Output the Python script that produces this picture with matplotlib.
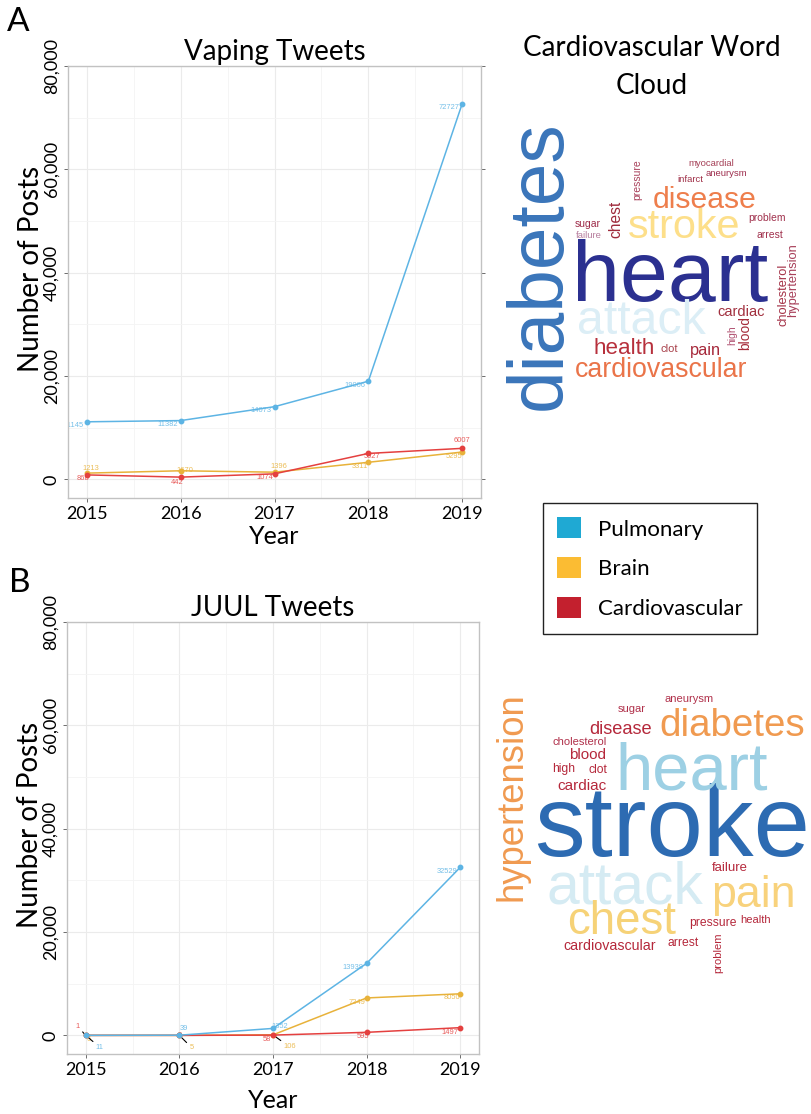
import matplotlib
matplotlib.use('Agg')
import matplotlib.pyplot as plt
from matplotlib.patches import Patch
from matplotlib.ticker import FuncFormatter, MultipleLocator

plt.rcParams['font.family'] = ['Lato', 'DejaVu Sans']

# ---- data ----
years = [2015, 2016, 2017, 2018, 2019]
series_names = ['Pulmonary', 'Brain', 'Cardiovascular']

vape_pulmonary = [11145, 11382, 14073, 19006, 72727]
vape_brain = [1213, 1670, 1396, 3311, 5295]
vape_cardio = [868, 442, 1074, 5027, 6007]

juul_pulmonary = [11, 39, 1352, 13938, 32529]
juul_brain = [6, 5, 106, 7249, 8050]
juul_cardio = [1, 3, 58, 595, 1497]

y_ticks = [0, 20000, 40000, 60000, 80000]

# word clouds (relative weight, biggest word = 100)
vape_words = ['heart', 'diabetes', 'attack', 'stroke', 'disease', 'cardiovascular',
              'health', 'chest', 'pain', 'cardiac', 'blood', 'cholesterol',
              'hypertension', 'clot', 'high', 'problem', 'arrest', 'pressure',
              'sugar', 'failure', 'aneurysm', 'myocardial', 'infarct']
vape_weights = [100, 89, 56, 48, 35, 31, 26, 18, 19, 17, 16, 15,
                15, 13, 12, 12, 12, 12, 12, 11, 11, 11, 11]

juul_words = ['stroke', 'heart', 'attack', 'chest', 'pain', 'diabetes', 'hypertension',
              'disease', 'blood', 'cardiac', 'cardiovascular', 'failure', 'clot',
              'pressure', 'high', 'arrest', 'aneurysm', 'health', 'problem',
              'cholesterol', 'sugar']
juul_weights = [100, 66, 58, 45, 44, 38, 36, 18, 15, 15, 14, 13, 12,
                12, 12, 12, 11, 11, 11, 11, 11]

# ---- styling / layout ----
line_colors = ['#5DB4E4', '#E8B23A', '#E4403F']
legend_colors = ['#1FA9D3', '#FBBC33', '#C3202E']

# label offsets in pixels: (dx, dy, ha, leader)
vape_label_pos = [
    [(-3, -4, 'right', False)] * 5,
    [(4, 5, 'center', False), (4, 0, 'center', False), (4, 6, 'center', False),
     (0, -4, 'right', False), (0, -4, 'right', False)],
    [(-4, -4, 'center', False), (-4, -5, 'center', False), (-1, -4, 'right', False),
     (4, -3, 'center', False), (0, 8, 'center', False)],
]
juul_label_pos = [
    [(10, -12, 'left', True), (0, 7, 'left', False), (7, 2, 'center', False),
     (-3, -4, 'right', False), (-3, -4, 'right', False)],
    [(3, -4, 'center', False), (10, -12, 'left', True), (10, -12, 'left', True),
     (-1, -5, 'right', False), (0, -4, 'right', False)],
    [(-8, 9, 'center', True), (0, 0, 'center', False), (-2, -4, 'right', False),
     (-4, -4, 'center', False), (-2, -5, 'right', False)],
]

# word cloud layout: word -> (x px, y px, rotation, colour)
vape_layout = {
    'diabetes': (540, 265, 90, '#3A75BA'),
    'heart': (670, 279, 0, '#2B3090'),
    'attack': (641, 322, 0, '#DCEEF6'),
    'stroke': (684, 227, 0, '#FDDF8A'),
    'disease': (705, 200, 0, '#EE7E4C'),
    'cardiovascular': (661, 370, 0, '#EA7449'),
    'health': (624, 349, 0, '#B7303C'),
    'pain': (705, 350, 0, '#A6283A'),
    'clot': (669, 349, 0, '#A8404A'),
    'cardiac': (741, 312, 0, '#A2303F'),
    'blood': (745, 333, 90, '#A62C3A'),
    'high': (732, 335, 90, '#B05070'),
    'cholesterol': (784, 295, 90, '#A53348'),
    'hypertension': (793, 280, 90, '#A8405A'),
    'chest': (616, 219, 90, '#9E2A3B'),
    'pressure': (637, 180, 90, '#A8405A'),
    'sugar': (588, 224, 0, '#9D2A48'),
    'failure': (589, 236, 0, '#B67C9C'),
    'myocardial': (711, 164, 0, '#A54057'),
    'aneurysm': (726, 174, 0, '#9E2F4E'),
    'infarct': (690, 179, 0, '#A03048'),
    'problem': (767, 218, 0, '#A0304C'),
    'arrest': (770, 235, 0, '#A0304C'),
}
juul_layout = {
    'hypertension': (512, 797, 90, '#F09A50'),
    'diabetes': (732, 726, 0, '#F09A50'),
    'heart': (692, 772, 0, '#9DD0E4'),
    'stroke': (672, 830, 0, '#2D6BB2'),
    'attack': (625, 888, 0, '#D5EBF3'),
    'pain': (753, 896, 0, '#F8D27C'),
    'chest': (622, 922, 0, '#F6D277'),
    'disease': (621, 730, 0, '#B5283B'),
    'aneurysm': (689, 699, 0, '#B0304A'),
    'sugar': (632, 709, 0, '#B0304A'),
    'cholesterol': (580, 742, 0, '#B0304A'),
    'blood': (588, 755, 0, '#B5283B'),
    'high': (564, 769, 0, '#B5283B'),
    'clot': (598, 770, 0, '#B5283B'),
    'cardiac': (582, 786, 0, '#B5283B'),
    'failure': (730, 868, 0, '#B5283B'),
    'pressure': (713, 923, 0, '#B5283B'),
    'health': (756, 920, 0, '#B5283B'),
    'arrest': (683, 943, 0, '#B5283B'),
    'cardiovascular': (610, 946, 0, '#B5283B'),
    'problem': (718, 953, 90, '#B5283B'),
}

FIG_W, FIG_H = 812, 1114


def line_panel(ax, series, label_pos, title, right_ticks):
    """Draw one line chart panel in a ggplot-like style."""
    order = [1, 2, 0]
    for i in order:
        ax.plot(years, series[i], color=line_colors[i], lw=1.1, marker='o',
                ms=3.2, zorder=3)
    for i in order:
        for j, val in enumerate(series[i]):
            dx, dy, ha, leader = label_pos[i][j]
            kw = {}
            if leader:
                kw['arrowprops'] = dict(arrowstyle='-', color='black', lw=0.8,
                                        shrinkA=0, shrinkB=1)
            ax.annotate(str(val), (years[j], val), xytext=(dx, dy),
                        textcoords='offset pixels', ha=ha, va='center',
                        fontsize=5.4, color=line_colors[i], alpha=0.85,
                        family='Liberation Sans', zorder=2.5,
                        annotation_clip=False, clip_on=True, **kw)

    ax.set_xlim(2014.8, 2019.2)
    ax.set_ylim(-3600, 80000)
    ax.set_xticks(years)
    ax.set_yticks(y_ticks)
    ax.yaxis.set_major_formatter(FuncFormatter(lambda v, p: f'{int(v):,}'))
    ax.xaxis.set_minor_locator(MultipleLocator(0.5))
    ax.yaxis.set_minor_locator(MultipleLocator(10000))
    ax.grid(which='major', color='#EBEBEB', lw=0.8)
    ax.grid(which='minor', color='#F4F4F4', lw=0.6)
    ax.set_axisbelow(True)
    for s in ax.spines.values():
        s.set_color('#C2C2C2')
        s.set_linewidth(1.0)
    ax.tick_params(which='minor', length=0)
    ax.tick_params(axis='both', which='major', length=3, width=0.6,
                   color='#555555', labelsize=13, pad=3)
    ax.tick_params(axis='y', right=right_ticks)
    for lab in ax.get_yticklabels():
        lab.set_rotation(90)
        lab.set_va('center')
    ax.set_title(title, fontsize=20, pad=4)
    ax.set_ylabel('Number of Posts', fontsize=20)
    ax.yaxis.set_label_coords(-0.058, 0.53)
    ax.set_xlabel('Year', fontsize=18)


def word_cloud(ax, words, weights, layout, top_size):
    """Place the words of a cloud with sizes from their weights."""
    for w, wt in zip(words, weights):
        x, y, rot, col = layout[w]
        ax.text(x, y, w, fontsize=top_size * wt / 100, rotation=rot,
                color=col, ha='center', va='center', family='Liberation Sans')


def main():
    fig = plt.figure(figsize=(FIG_W / 100, FIG_H / 100), dpi=100)

    ax_a = fig.add_axes([68 / FIG_W, 1 - 498 / FIG_H, 413 / FIG_W, 432 / FIG_H])
    line_panel(ax_a, [vape_pulmonary, vape_brain, vape_cardio], vape_label_pos,
               'Vaping Tweets', True)
    ax_a.xaxis.set_label_coords(0.5, -0.063)

    ax_b = fig.add_axes([67 / FIG_W, 1 - 1054 / FIG_H, 412 / FIG_W, 432 / FIG_H])
    line_panel(ax_b, [juul_pulmonary, juul_brain, juul_cardio], juul_label_pos,
               'JUUL Tweets', False)
    ax_b.xaxis.set_label_coords(0.5, -0.08)

    fig.text(18 / FIG_W, 1 - 22 / FIG_H, 'A', fontsize=24, ha='center', va='center')
    fig.text(20 / FIG_W, 1 - 583 / FIG_H, 'B', fontsize=24, ha='center', va='center')

    # word clouds on an overlay in pixel coordinates
    ax_wc = fig.add_axes([0, 0, 1, 1])
    ax_wc.set_xlim(0, FIG_W)
    ax_wc.set_ylim(FIG_H, 0)
    ax_wc.axis('off')
    ax_wc.patch.set_visible(False)
    word_cloud(ax_wc, vape_words, vape_weights, vape_layout, 62)
    word_cloud(ax_wc, juul_words, juul_weights, juul_layout, 73)

    fig.text(652 / FIG_W, 1 - 35 / FIG_H, 'Cardiovascular Word\nCloud', fontsize=20,
             ha='center', va='top', linespacing=1.55)

    handles = [Patch(facecolor=c, edgecolor='none') for c in legend_colors]
    fig.legend(handles, series_names, loc='upper left',
               bbox_to_anchor=(543 / FIG_W, 1 - 503 / FIG_H), borderaxespad=0,
               fontsize=16, frameon=True, fancybox=False, edgecolor='#222222',
               framealpha=1, handlelength=1.08, handleheight=1.08,
               handletextpad=0.75, labelspacing=0.8, borderpad=0.65)

    fig.savefig('out.png', dpi=100)


if __name__ == '__main__':
    main()
